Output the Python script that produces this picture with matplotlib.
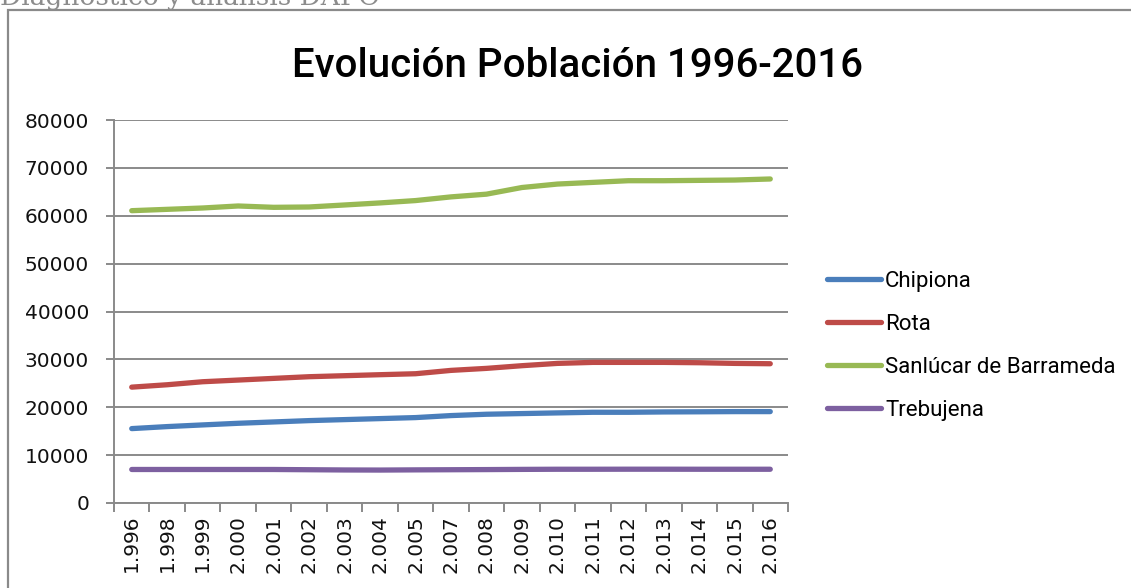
import matplotlib
matplotlib.use("Agg")
import matplotlib.pyplot as plt
from matplotlib.patches import Rectangle

# data
years = ["1.996", "1.998", "1.999", "2.000", "2.001", "2.002", "2.003", "2.004", "2.005",
         "2.007", "2.008", "2.009", "2.010", "2.011", "2.012", "2.013", "2.014", "2.015", "2.016"]
chipiona = [15540, 15960, 16310, 16650, 16930, 17210, 17420, 17630, 17840, 18260,
            18540, 18680, 18820, 18950, 18950, 19020, 19050, 19090, 19090]
rota = [24200, 24700, 25330, 25680, 26030, 26380, 26590, 26800, 27000, 27700,
        28120, 28680, 29160, 29370, 29370, 29370, 29300, 29160, 29090]
sanlucar = [61060, 61340, 61620, 62040, 61760, 61830, 62250, 62680, 63170, 63940,
            64510, 65900, 66620, 66970, 67320, 67320, 67390, 67460, 67680]
trebujena = [7000, 7000, 7000, 7000, 7000, 6950, 6900, 6880, 6920, 6950,
             6980, 7020, 7050, 7050, 7060, 7060, 7050, 7050, 7050]

series = [("Chipiona", chipiona, "#4A7EBB"),
          ("Rota", rota, "#BE4B48"),
          ("Sanlúcar de Barrameda", sanlucar, "#98B954"),
          ("Trebujena", trebujena, "#7D60A0")]

narrow = ["Roboto", "DejaVu Sans"]

fig = plt.figure(figsize=(11.31, 5.88), dpi=100)

# page header (cut off at the top) and chart frame
fig.text(0.0, 0.992, "Diagnóstico y análisis DAFO", family="DejaVu Serif",
         fontsize=19, color="#8c8c8c", va="baseline", ha="left")
fig.patches.append(Rectangle((8 / 1131, -0.05), 1.2, 1 - 10 / 588 + 0.05,
                             transform=fig.transFigure, fill=False,
                             edgecolor="#8a8a8a", linewidth=1.6))

ax = fig.add_axes([114 / 1131, 1 - 503 / 588, (788 - 114) / 1131, (503 - 120) / 588])
x = list(range(len(years)))
for name, vals, col in series:
    ax.plot(x, vals, color=col, linewidth=3.8, solid_capstyle="round",
            solid_joinstyle="round", label=name)

ax.set_xlim(-0.5, len(years) - 0.5)
ax.set_ylim(0, 80000)
ax.set_yticks(range(0, 80001, 10000))
ax.yaxis.grid(True, color="#8a8a8a", linewidth=1.4)
ax.set_axisbelow(True)
for s in ["top", "right"]:
    ax.spines[s].set_visible(False)
for s in ["left", "bottom"]:
    ax.spines[s].set_color("#8a8a8a")
    ax.spines[s].set_linewidth(1.4)

ax.set_xticks(x)
ax.set_xticklabels(years, rotation=90)
ax.set_xticks([i - 0.5 for i in range(len(years) + 1)], minor=True)
ax.tick_params(axis="x", which="major", length=0, pad=8.5, labelsize=14.5, labelcolor="#111111")
ax.tick_params(axis="x", which="minor", length=6.5, width=1.4, color="#8a8a8a")
ax.tick_params(axis="y", length=6, width=1.4, color="#8a8a8a", labelsize=14.5,
               labelcolor="#111111", pad=12)

fig.text(577 / 1131, 1 - 66 / 588, "Evolución Población 1996-2016", family=narrow,
         fontsize=29, fontweight="medium", ha="center", va="center", color="#000000")

leg = ax.legend(loc="upper left", bbox_to_anchor=(1.045, 0.63), frameon=False,
                prop={"family": narrow, "size": 16}, handlelength=2.4,
                handletextpad=0.2, labelspacing=1.0, borderaxespad=0)

fig.savefig("out.png", dpi=100)
